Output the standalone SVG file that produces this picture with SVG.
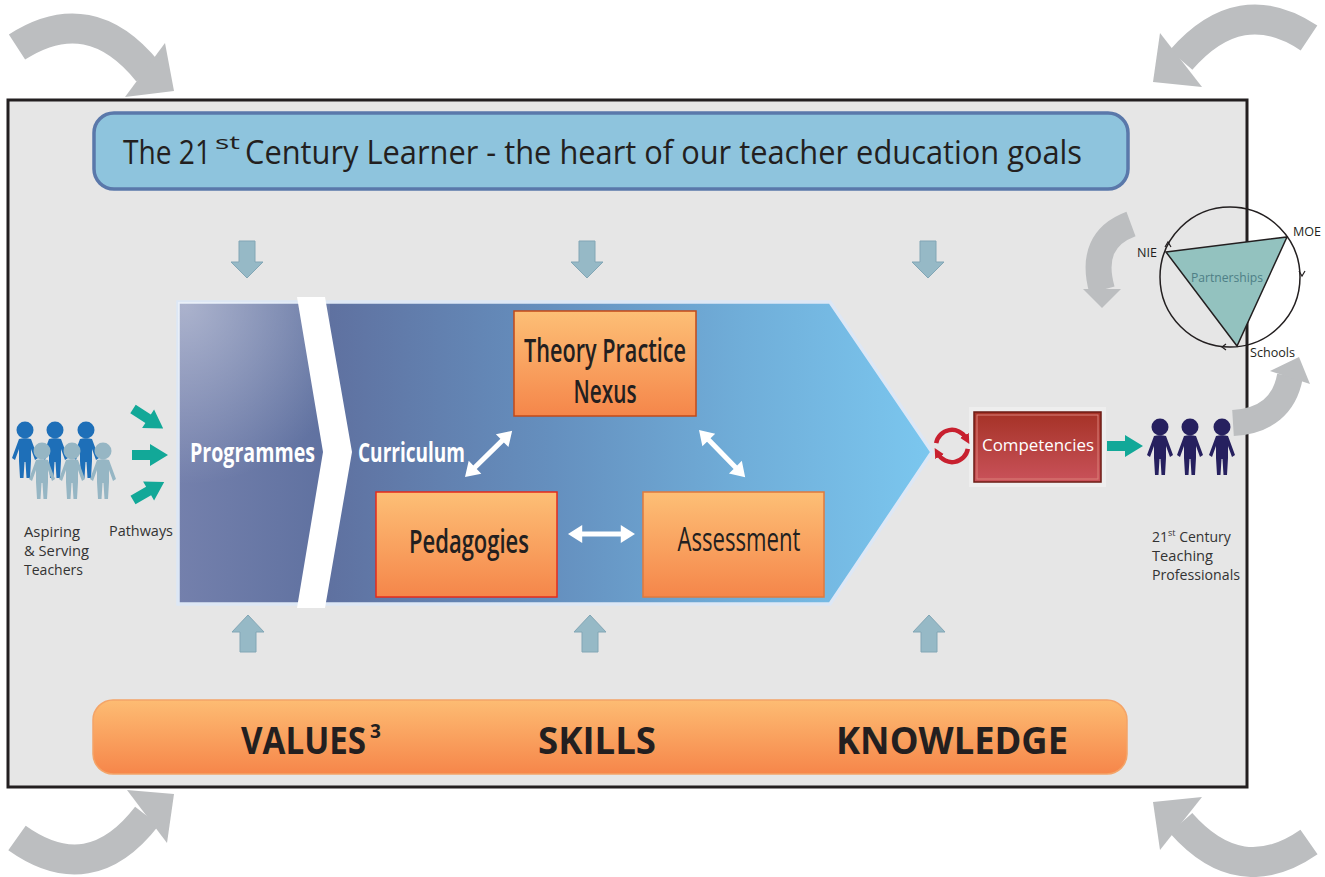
<svg xmlns="http://www.w3.org/2000/svg" xmlns:xlink="http://www.w3.org/1999/xlink" width="1325" height="877" viewBox="0 0 1325 877">
<style>
  .t { font-family: "Open Sans", "Noto Sans", "Liberation Sans", sans-serif; fill: #231f20; }
  .b { font-weight: bold; }
  .sb { font-weight: 600; }
  .w { fill: #ffffff; }
  .small { font-size: 14px; fill: #333333; }
  .cornerArc { fill: none; stroke: #bcbec0; stroke-width: 30; }
  .cornerHead { fill: #bcbec0; }
  .blueArrow { fill: #96b9c6; stroke: #82a6b5; stroke-width: 1; }
  .teal { fill: #12a898; }
  .dbl { fill: #ffffff; }
  .box { fill: url(#orange); stroke-width: 1.5; }
  .red { fill: none; stroke: #c8202f; stroke-width: 4.5; }
</style>
<defs>
  <linearGradient id="orange" x1="0" y1="0" x2="0" y2="1">
    <stop offset="0" stop-color="#fdbf76"/>
    <stop offset="1" stop-color="#f5864a"/>
  </linearGradient>
  <linearGradient id="orangeBar" x1="0" y1="0" x2="0" y2="1">
    <stop offset="0" stop-color="#fdbc73"/>
    <stop offset="1" stop-color="#f6864a"/>
  </linearGradient>
  <linearGradient id="chev" x1="178" y1="0" x2="932" y2="0" gradientUnits="userSpaceOnUse">
    <stop offset="0" stop-color="#7480ac"/>
    <stop offset="0.2" stop-color="#5f71a0"/>
    <stop offset="0.5" stop-color="#6590bf"/>
    <stop offset="0.75" stop-color="#70aed9"/>
    <stop offset="1" stop-color="#7bc7ef"/>
  </linearGradient>
  <radialGradient id="glow" cx="185" cy="305" r="180" gradientUnits="userSpaceOnUse">
    <stop offset="0" stop-color="#ffffff" stop-opacity="0.4"/>
    <stop offset="1" stop-color="#ffffff" stop-opacity="0"/>
  </radialGradient>
  <linearGradient id="comp" x1="0" y1="0" x2="0" y2="1">
    <stop offset="0" stop-color="#a53226"/>
    <stop offset="1" stop-color="#c9525a"/>
  </linearGradient>
  <marker id="redHead" markerWidth="10" markerHeight="10" refX="3" refY="5" orient="auto" markerUnits="userSpaceOnUse">
    <path d="M0,0 L10,5 L0,10 Z" fill="#c8202f"/>
  </marker>
  <g id="person">
    <circle cx="0" cy="0" r="8.5"/>
    <path d="M-6,9 C-3,8 3,8 6,9 L13,28 L10,30 L6,19 L6,31 L5,48 L1.5,48 L0.5,32 L-0.5,32 L-1.5,48 L-5,48 L-6,31 L-6,19 L-10,30 L-13,28 Z"/>
  </g>
  <path id="tealArrow" d="M0,-5 L18,-5 L18,-11 L36,0 L18,11 L18,5 L0,5 Z"/>
  <path id="dblArrow" d="M0,0 L14,-9 L14,-2.5 L52,-2.5 L52,-9 L66,0 L52,9 L52,2.5 L14,2.5 L14,9 Z"/>
</defs>

<rect x="0" y="0" width="1325" height="877" fill="#ffffff"/>

<!-- Frame -->
<g id="frame">
  <rect x="8" y="100" width="1239" height="687" fill="#e6e6e6" stroke="#231f20" stroke-width="3"/>
</g>

<!-- Corner arrows -->
<g id="corner-arrows">
  <path class="cornerArc" d="M17,47 Q90,0 148,72"/>
  <polygon class="cornerHead" points="165,43 174,91 125,97"/>
  <path class="cornerArc" d="M1309,38 Q1240,-8 1181,60"/>
  <polygon class="cornerHead" points="1160,33 1153,82 1202,87"/>
  <path class="cornerArc" d="M17,838 Q90,890 147,816"/>
  <polygon class="cornerHead" points="127,790 174,794 167,843"/>
  <path class="cornerArc" d="M1309,842 Q1240,890 1181,823"/>
  <polygon class="cornerHead" points="1202,797 1153,802 1160,850"/>
</g>

<!-- Top banner -->
<g id="learner-banner">
  <rect x="94" y="113" width="1034" height="76" rx="20" fill="#8ec4dd" stroke="#5a78aa" stroke-width="3.5"/>
  <text class="t" y="164" font-size="32"><tspan x="123" textLength="88" lengthAdjust="spacingAndGlyphs">The 21</tspan><tspan x="215" y="149" font-size="19" textLength="25" lengthAdjust="spacingAndGlyphs">st</tspan><tspan x="245" y="164" textLength="837" lengthAdjust="spacingAndGlyphs">Century Learner - the heart of our teacher education goals</tspan></text>
</g>

<!-- Bottom banner -->
<g id="values-banner">
  <rect x="93" y="700" width="1034" height="74" rx="20" fill="url(#orangeBar)" stroke="#f4a468" stroke-width="1.5"/>
  <text class="t b" y="754" font-size="38"><tspan x="241" textLength="125" lengthAdjust="spacingAndGlyphs">VALUES</tspan><tspan x="370" y="738" font-size="19">3</tspan></text>
  <text class="t b" x="538" y="754" font-size="38" textLength="118" lengthAdjust="spacingAndGlyphs">SKILLS</text>
  <text class="t b" x="836" y="754" font-size="38" textLength="232" lengthAdjust="spacingAndGlyphs">KNOWLEDGE</text>
</g>

<!-- Small blue arrows -->
<g id="influence-arrows">
  <path class="blueArrow" d="M239,241 H255 V262 H263 L247,278 L231,262 H239 Z"/>
  <path class="blueArrow" d="M579,241 H595 V262 H603 L587,278 L571,262 H579 Z"/>
  <path class="blueArrow" d="M920,241 H936 V262 H944 L928,278 L912,262 H920 Z"/>
  <path class="blueArrow" d="M240,652 H256 V632 H264 L248,615 L232,632 H240 Z"/>
  <path class="blueArrow" d="M582,652 H598 V632 H606 L590,615 L574,632 H582 Z"/>
  <path class="blueArrow" d="M921,652 H937 V632 H945 L929,615 L913,632 H921 Z"/>
</g>

<!-- Chevron -->
<g id="programme-chevron">
  <polygon points="178,302 830,302 932,452 830,604 178,604" fill="url(#chev)" stroke="#dde7f5" stroke-width="3.5"/>
  <polygon points="178,302 330,302 330,604 178,604" fill="url(#glow)"/>
  <polygon points="297,297 325,297 352,452 325,608 297,608 323,452" fill="#ffffff"/>
  <text class="t b w" x="190" y="462" font-size="26" textLength="125" lengthAdjust="spacingAndGlyphs">Programmes</text>
  <text class="t b w" x="358" y="462" font-size="26" textLength="107" lengthAdjust="spacingAndGlyphs">Curriculum</text>
</g>

<g id="theory-practice-nexus">
  <rect class="box" x="514" y="311" width="182" height="105" stroke="#c24a18"/>
  <text class="t sb" x="605" y="362" font-size="32" text-anchor="middle" textLength="162" lengthAdjust="spacingAndGlyphs">Theory Practice</text>
  <text class="t sb" x="605" y="403" font-size="32" text-anchor="middle" textLength="63" lengthAdjust="spacingAndGlyphs">Nexus</text>
</g>
<g id="pedagogies">
  <rect class="box" x="376" y="492" width="181" height="105" stroke="#e52b1b"/>
  <text class="t sb" x="469" y="553" font-size="32" text-anchor="middle" textLength="120" lengthAdjust="spacingAndGlyphs">Pedagogies</text>
</g>
<g id="assessment">
  <rect class="box" x="643" y="492" width="181" height="105" stroke="#e07a3c"/>
  <text class="t" x="739" y="551" font-size="32" text-anchor="middle" textLength="123" lengthAdjust="spacingAndGlyphs">Assessment</text>
</g>

<!-- Competencies -->
<g id="competencies">
  <rect x="971" y="409" width="133" height="76" fill="none" stroke="#eeeeee" stroke-width="4"/>
  <rect x="974" y="412" width="127" height="70" fill="url(#comp)" stroke="#6e1c16" stroke-width="1.5"/>
  <rect x="977" y="415" width="121" height="64" fill="none" stroke="#db8078" stroke-width="1"/>
  <text class="t w" x="1038" y="451" font-size="17" text-anchor="middle" textLength="112" lengthAdjust="spacingAndGlyphs">Competencies</text>
</g>

<!-- Aspiring teachers -->
<g id="aspiring-teachers">
  <g fill="#1e6fb8">
    <use xlink:href="#person" href="#person" transform="translate(25,430)"/>
    <use xlink:href="#person" href="#person" transform="translate(55,430)"/>
    <use xlink:href="#person" href="#person" transform="translate(86,430)"/>
  </g>
  <g fill="#96b6c4">
    <use xlink:href="#person" href="#person" transform="translate(42,451)"/>
    <use xlink:href="#person" href="#person" transform="translate(72,451)"/>
    <use xlink:href="#person" href="#person" transform="translate(103,451)"/>
  </g>
  <text class="t small" x="24" y="537" textLength="56" lengthAdjust="spacingAndGlyphs">Aspiring</text>
  <text class="t small" x="24" y="556" textLength="65" lengthAdjust="spacingAndGlyphs">&amp; Serving</text>
  <text class="t small" x="24" y="575" textLength="59" lengthAdjust="spacingAndGlyphs">Teachers</text>
</g>

<g id="pathways">
  <use class="teal" xlink:href="#tealArrow" href="#tealArrow" transform="translate(133,409) rotate(33)"/>
  <use class="teal" xlink:href="#tealArrow" href="#tealArrow" transform="translate(132,455)"/>
  <use class="teal" xlink:href="#tealArrow" href="#tealArrow" transform="translate(133,500) rotate(-30)"/>
  <text class="t small" x="109" y="536" textLength="64" lengthAdjust="spacingAndGlyphs">Pathways</text>
</g>

<!-- Professionals -->
<g id="professionals">
  <g fill="#26205f">
    <use xlink:href="#person" href="#person" transform="translate(1160,427)"/>
    <use xlink:href="#person" href="#person" transform="translate(1190,427)"/>
    <use xlink:href="#person" href="#person" transform="translate(1222,427)"/>
  </g>
  <text class="t small" x="1152" y="542">21<tspan font-size="9" dy="-6">st</tspan><tspan dy="6"> Century</tspan></text>
  <text class="t small" x="1152" y="561" textLength="61" lengthAdjust="spacingAndGlyphs">Teaching</text>
  <text class="t small" x="1152" y="580" textLength="88" lengthAdjust="spacingAndGlyphs">Professionals</text>
</g>

<!-- Partnerships -->
<g id="partnerships">
  <circle cx="1230" cy="277" r="70" fill="none" stroke="#231f20" stroke-width="1.5"/>
  <polygon points="1166,252 1287,237 1237,346" fill="#93c2bf" stroke="#231f20" stroke-width="1.5"/>
  <path d="M1165,247 L1168,242 L1171,247" fill="none" stroke="#231f20" stroke-width="1.2"/>
  <path d="M1299,271 L1302,276 L1305,271" fill="none" stroke="#231f20" stroke-width="1.2"/>
  <path d="M1226,344 L1222,347 L1226,350" fill="none" stroke="#231f20" stroke-width="1.2"/>
  <text class="t" x="1227" y="282" font-size="13" text-anchor="middle" textLength="72" lengthAdjust="spacingAndGlyphs" style="fill:#4e7f86">Partnerships</text>
  <text class="t" x="1137" y="257" font-size="12" textLength="20" lengthAdjust="spacingAndGlyphs">NIE</text>
  <text class="t" x="1293" y="236" font-size="12" textLength="28" lengthAdjust="spacingAndGlyphs">MOE</text>
  <text class="t" x="1250" y="357" font-size="12" textLength="45" lengthAdjust="spacingAndGlyphs">Schools</text>
</g>

<!-- Connectors -->
<g id="connectors">
  <use class="dbl" xlink:href="#dblArrow" href="#dblArrow" transform="translate(465,477) rotate(-44.4)"/>
  <use class="dbl" xlink:href="#dblArrow" href="#dblArrow" transform="translate(699,430) rotate(45.6)"/>
  <use class="dbl" xlink:href="#dblArrow" href="#dblArrow" transform="translate(568,534) scale(1.015,1)"/>
  <path class="red" d="M936.2,443.2 A16 16 0 0 1 965.9,438" marker-end="url(#redHead)"/>
  <path class="red" d="M967.8,448.8 A16 16 0 0 1 938.1,454" marker-end="url(#redHead)"/>
  <use class="teal" xlink:href="#tealArrow" href="#tealArrow" transform="translate(1107,446)"/>
  <path d="M1131,224 Q1088,240 1102,290" fill="none" stroke="#bcbec0" stroke-width="26"/>
  <polygon points="1083,289 1102,308 1121,289" fill="#bcbec0"/>
  <path d="M1233,423 Q1282,420 1290,376" fill="none" stroke="#bcbec0" stroke-width="26"/>
  <polygon points="1270,371 1299,357 1310,384" fill="#bcbec0"/>
</g>
</svg>
